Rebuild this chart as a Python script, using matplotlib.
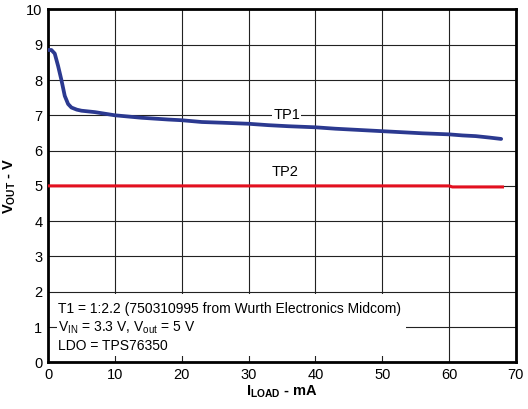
import matplotlib.pyplot as plt
from matplotlib.patches import Rectangle

plt.rcParams['font.family'] = ['Liberation Sans', 'DejaVu Sans']
plt.rcParams['mathtext.fontset'] = 'custom'
plt.rcParams['mathtext.rm'] = 'Liberation Sans'
plt.rcParams['mathtext.it'] = 'Liberation Sans'
plt.rcParams['mathtext.bf'] = 'Liberation Sans:bold'

# TP1 output (blue)
tp1_load = [0, 0.5, 1.0, 1.5, 2.0, 2.5, 3.0, 3.5, 4.3, 5, 7, 10, 14, 18, 20, 23, 26,
            30, 33, 36, 40, 43, 46, 50, 53, 56, 60, 62, 64, 66, 67.8]
tp1_vout = [8.85, 8.85, 8.75, 8.4, 8.0, 7.55, 7.32, 7.22, 7.16, 7.13, 7.09, 7.0, 6.93,
            6.88, 6.86, 6.81, 6.79, 6.76, 6.72, 6.69, 6.66, 6.62, 6.59, 6.55, 6.52,
            6.49, 6.46, 6.43, 6.41, 6.37, 6.33]

# TP2 output (red)
tp2_load = [0, 60, 60.5, 68]
tp2_vout = [5.0, 5.0, 4.97, 4.97]

x_ticks = [0, 10, 20, 30, 40, 50, 60, 70]
y_ticks = list(range(0, 11))

fig = plt.figure(figsize=(5.28, 4.09), dpi=100)
ax = fig.add_axes([0.091, 0.114, 0.886, 0.863])

ax.plot(tp1_load, tp1_vout, color='#2b3990', lw=2.7, solid_capstyle='round', zorder=4)
ax.plot(tp2_load, tp2_vout, color='#e3101f', lw=2.2, zorder=4)

ax.set_xlim(0, 70)
ax.set_ylim(0, 10)
ax.set_xticks(x_ticks)
ax.set_yticks(y_ticks)
ax.tick_params(length=0, labelsize=10.5, pad=4)
ax.grid(True, color='#222222', lw=0.8)
ax.set_axisbelow(True)
for sp in ax.spines.values():
    sp.set_linewidth(2)

ax.set_xlabel(r'$\mathbf{I_{LOAD}}$ - mA', fontweight='bold', fontsize=10.5, labelpad=1)
ax.set_ylabel(r'$\mathbf{V_{OUT}}$ - V', fontweight='bold', fontsize=10.5, labelpad=6)

# curve labels
ax.text(35.7, 7.0, 'TP1', ha='center', va='center', fontsize=10.5,
        bbox=dict(facecolor='white', edgecolor='none', pad=0.5), zorder=3)
ax.text(35.5, 5.38, 'TP2', ha='center', va='center', fontsize=10.5, zorder=3)

# condition box
ax.add_patch(Rectangle((1.3, 0.18), 52.2, 1.77, facecolor='white', edgecolor='none', zorder=2))
ax.text(1.5, 1.52, 'T1 = 1:2.2 (750310995 from Wurth Electronics Midcom)', fontsize=10,
        va='center', zorder=3)
ax.text(1.5, 0.98, r'V$_{\mathrm{IN}}$ = 3.3 V, V$_{\mathrm{out}}$ = 5 V', fontsize=10,
        va='center', zorder=3)
ax.text(1.5, 0.45, 'LDO = TPS76350', fontsize=10, va='center', zorder=3)

fig.savefig('out.png', dpi=100)
